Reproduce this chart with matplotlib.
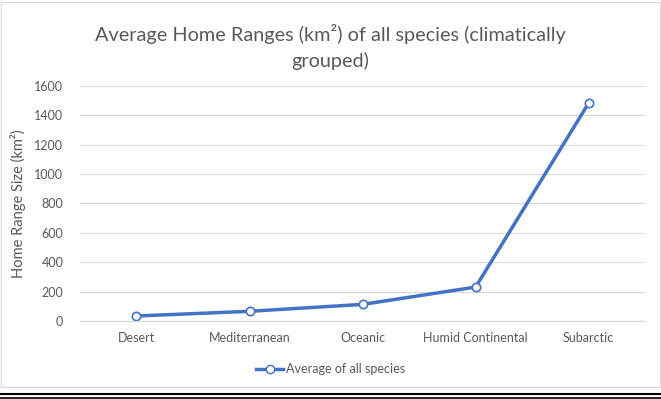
import matplotlib.pyplot as plt
from matplotlib.lines import Line2D

# climate groups and average home range (km^2)
climates = ['Desert', 'Mediterranean', 'Oceanic', 'Humid Continental', 'Subarctic']
avg_range = [34, 66, 113, 231, 1483]
yticks = [0, 200, 400, 600, 800, 1000, 1200, 1400, 1600]

plt.rcParams['font.family'] = ['Lato', 'DejaVu Sans']
grey = '#595959'
blue = '#4472C4'

fig = plt.figure(figsize=(6.61, 3.99), dpi=100)
ax = fig.add_axes([0.121, 0.1955, 0.855, 0.589])

x = list(range(len(climates)))
ax.plot(x, avg_range, color=blue, linewidth=2.5, marker='o', markersize=6,
        markerfacecolor='white', markeredgecolor=blue, markeredgewidth=1.2,
        label='Average of all species')

ax.set_xlim(-0.5, len(climates) - 0.5)
ax.set_ylim(0, 1600)
ax.set_yticks(yticks)
ax.set_xticks(x)
ax.set_xticklabels(climates)
ax.grid(axis='y', color='#d9d9d9', linewidth=0.8)
ax.set_axisbelow(True)
for s in ['top', 'right', 'left']:
    ax.spines[s].set_visible(False)
ax.spines['bottom'].set_color('#d9d9d9')
ax.tick_params(length=0, labelsize=9, colors=grey, pad=8)
ax.tick_params(axis='y', pad=12)

ax.set_ylabel('Home Range Size (km²)', fontsize=10.5, color=grey, labelpad=6)

fig.text(0.5, 0.915, 'Average Home Ranges (km²) of all species (climatically', ha='center',
         va='center', fontsize=14.3, color=grey)
fig.text(0.5, 0.848, 'grouped)', ha='center', va='center', fontsize=14.3, color=grey)

fig.legend(handles=[Line2D([0], [0], color=blue, linewidth=2.5, marker='o', markersize=6,
                           markerfacecolor='white', markeredgecolor=blue)],
           labels=['Average of all species'], loc='center', bbox_to_anchor=(0.5, 0.075),
           frameon=False, fontsize=9, labelcolor=grey, handlelength=2.2, handletextpad=0.2)

# outer chart border and the dark bottom edge
fig.add_artist(plt.Rectangle((0.002, 0.03), 0.996, 0.965, transform=fig.transFigure,
                             fill=False, edgecolor='#d9d9d9', linewidth=0.8))
fig.add_artist(Line2D([0, 1], [0.012, 0.012], transform=fig.transFigure, color='black', linewidth=1.5))
fig.add_artist(Line2D([0, 1], [0.003, 0.003], transform=fig.transFigure, color='black', linewidth=1.2))

fig.savefig('out.png', dpi=100)
